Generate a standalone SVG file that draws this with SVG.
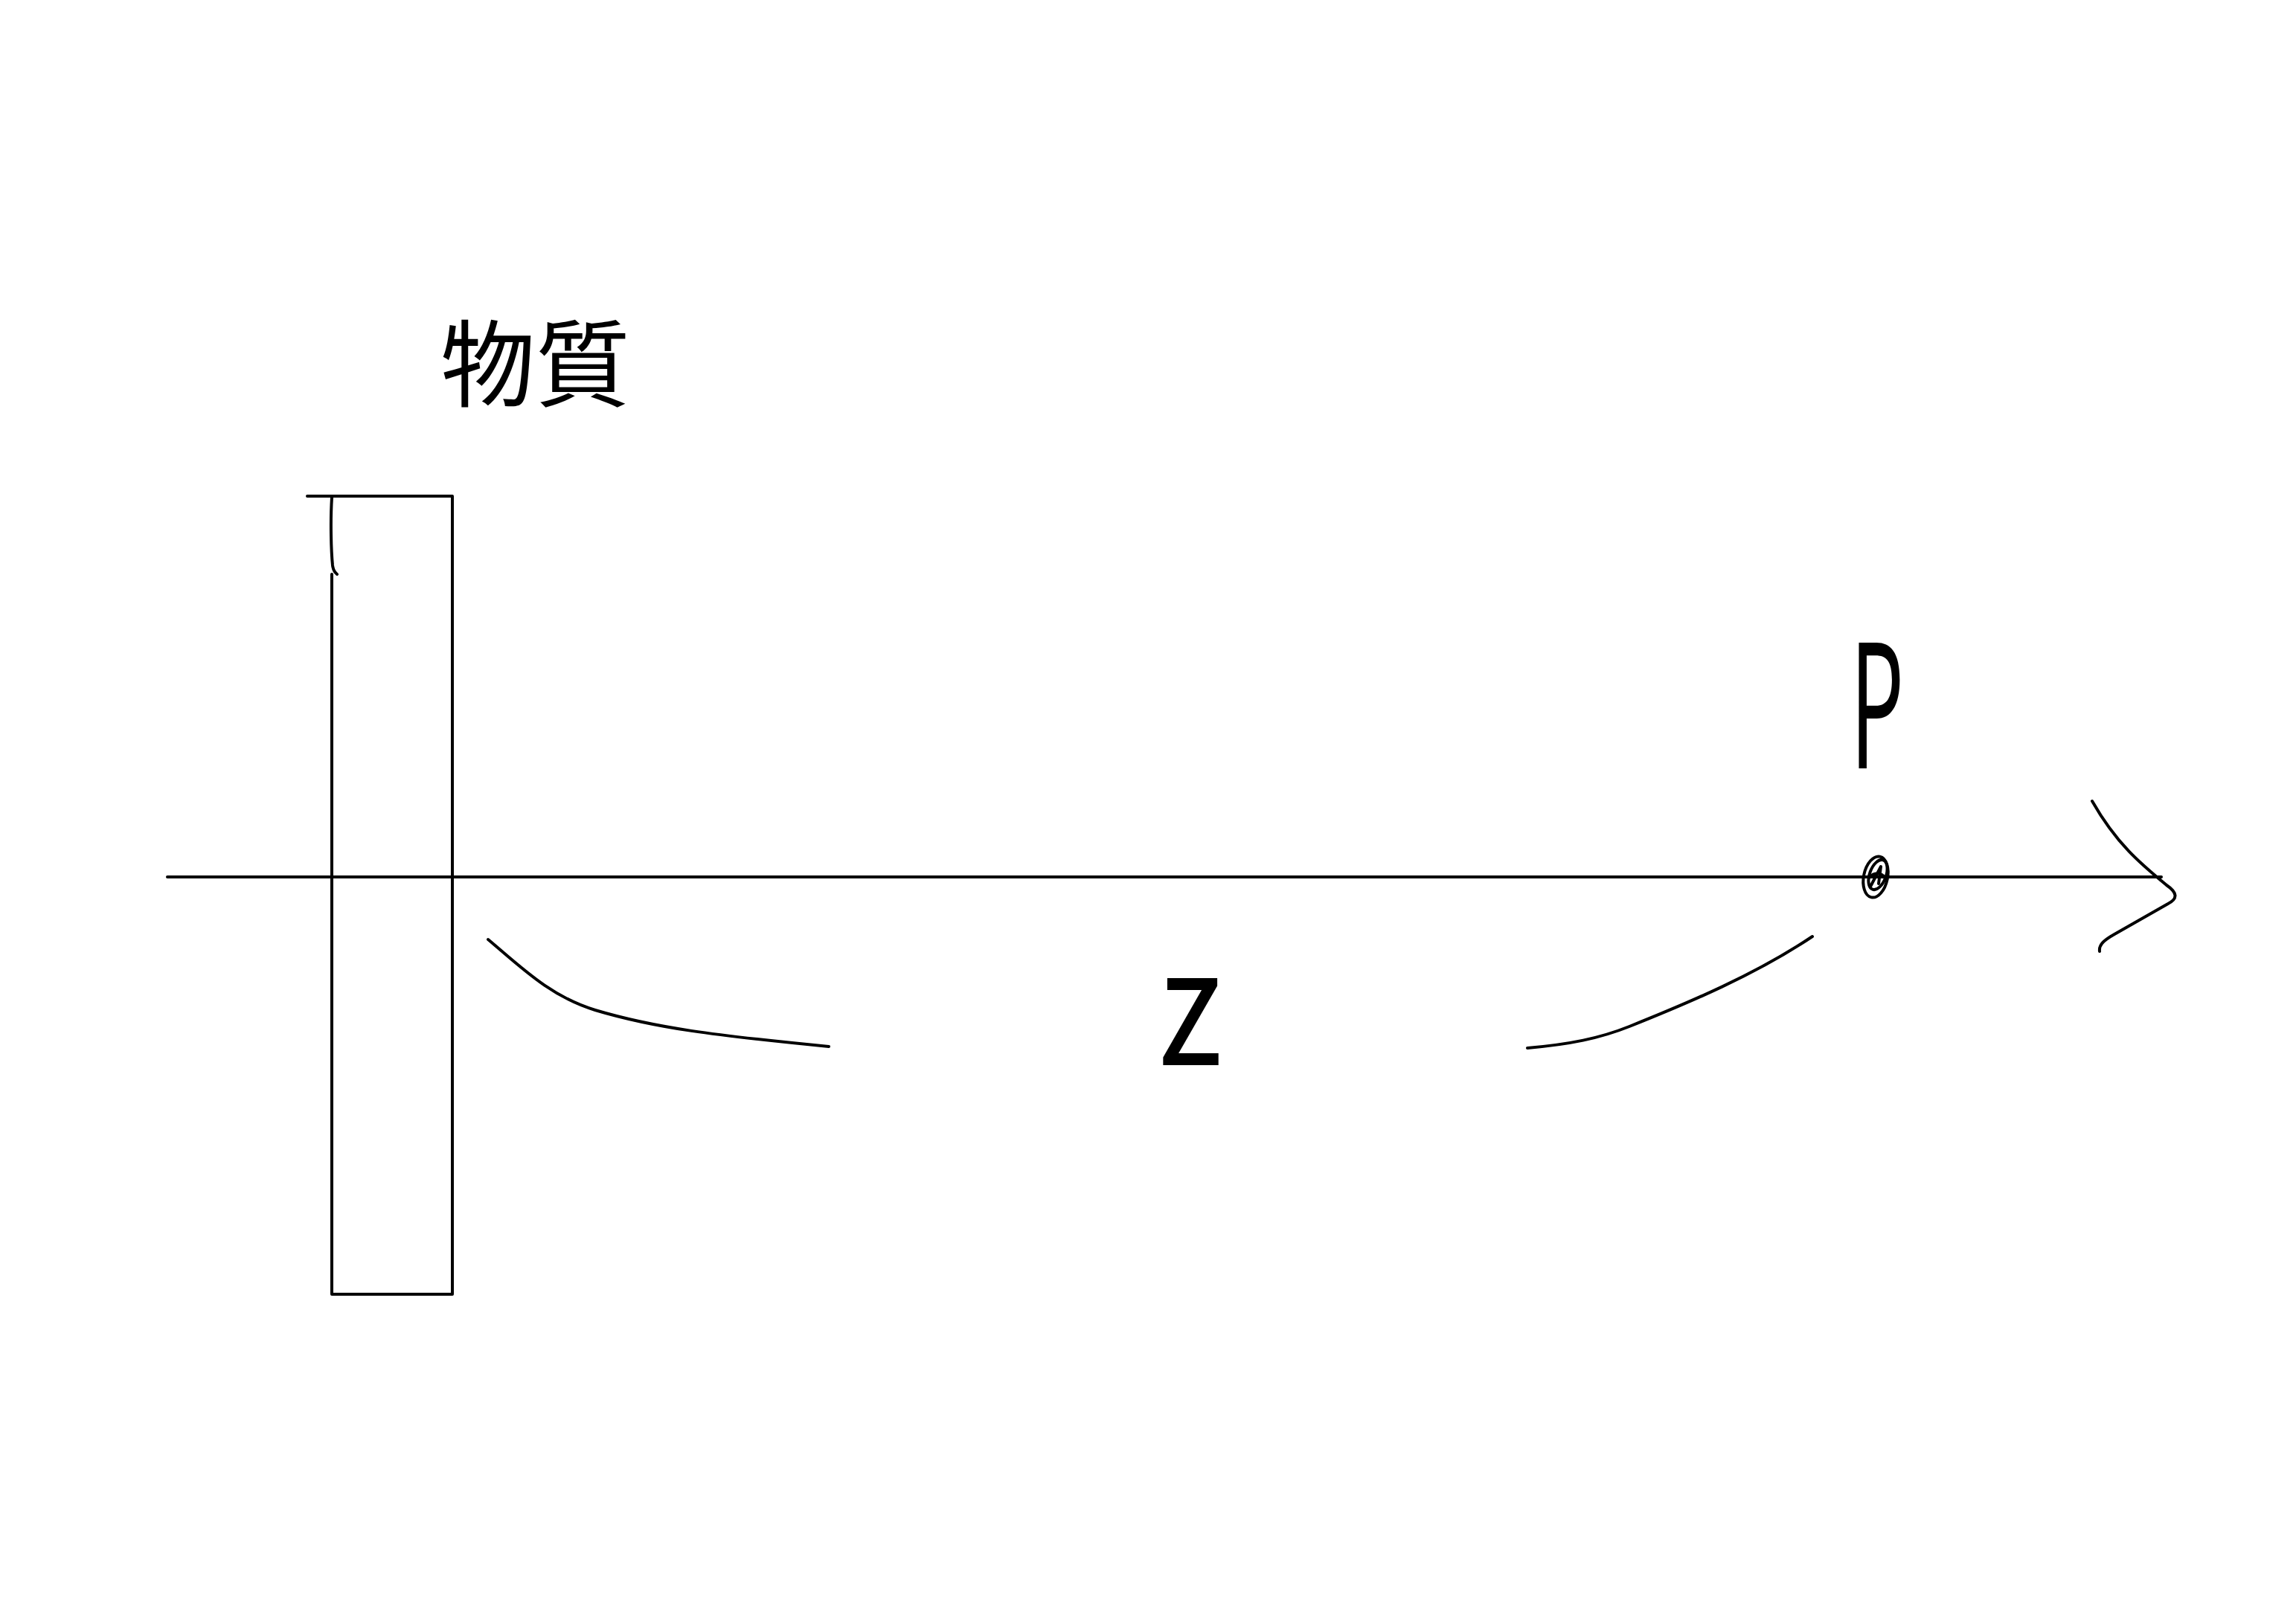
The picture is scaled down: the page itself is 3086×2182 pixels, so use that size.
<svg xmlns="http://www.w3.org/2000/svg" width="3086" height="2182" viewBox="0 0 3086 2182">
<style>
.ink{fill:none;stroke:#000;stroke-width:4;stroke-linecap:round;stroke-linejoin:round}
.lbl{font-family:"Noto Sans CJK JP","Liberation Sans",sans-serif;fill:#000}
</style>
<rect width="3086" height="2182" fill="#fff"/>
<g id="material">
<path class="ink" d="M413,667 L608,667 L608,1740 L446,1740 L446,772"/>
<path class="ink" d="M446,669 C444,700 445,740 447,760 Q448,768 453,772"/>
<text class="lbl" x="592" y="537" font-size="127" textLength="255" lengthAdjust="spacingAndGlyphs">物質</text>
</g>
<g id="point-P">
<ellipse class="ink" cx="2521" cy="1179" rx="16" ry="28" transform="rotate(12 2521 1179)"/>
<ellipse class="ink" cx="2524" cy="1176" rx="11" ry="21" transform="rotate(20 2524 1176)"/>
<path class="ink" d="M2514,1192 L2528,1165 L2525,1188 M2512,1180 Q2522,1170 2532,1178"/>
<text class="lbl" x="2523" y="1033" font-size="230" text-anchor="middle" textLength="72" lengthAdjust="spacingAndGlyphs" font-family="Liberation Sans">P</text>
</g>
<g id="distance-z">
<path class="ink" d="M656,1263 C700,1300 740,1340 800,1358 C880,1382 960,1392 1114,1407"/>
<path class="ink" d="M2053,1409 C2110,1404 2150,1396 2190,1380 C2270,1348 2360,1310 2436,1259"/>
<text class="lbl" x="1600" y="1432" font-size="215" text-anchor="middle" textLength="86" lengthAdjust="spacingAndGlyphs" font-family="Liberation Sans">z</text>
</g>
<g id="connectors">
<path class="ink" d="M225,1179 L2905,1179"/>
<path class="ink" d="M2812,1077 C2845,1135 2878,1162 2912,1190 Q2934,1205 2914,1215 L2842,1256 C2826,1265 2821,1271 2822,1279"/>
</g>
</svg>
